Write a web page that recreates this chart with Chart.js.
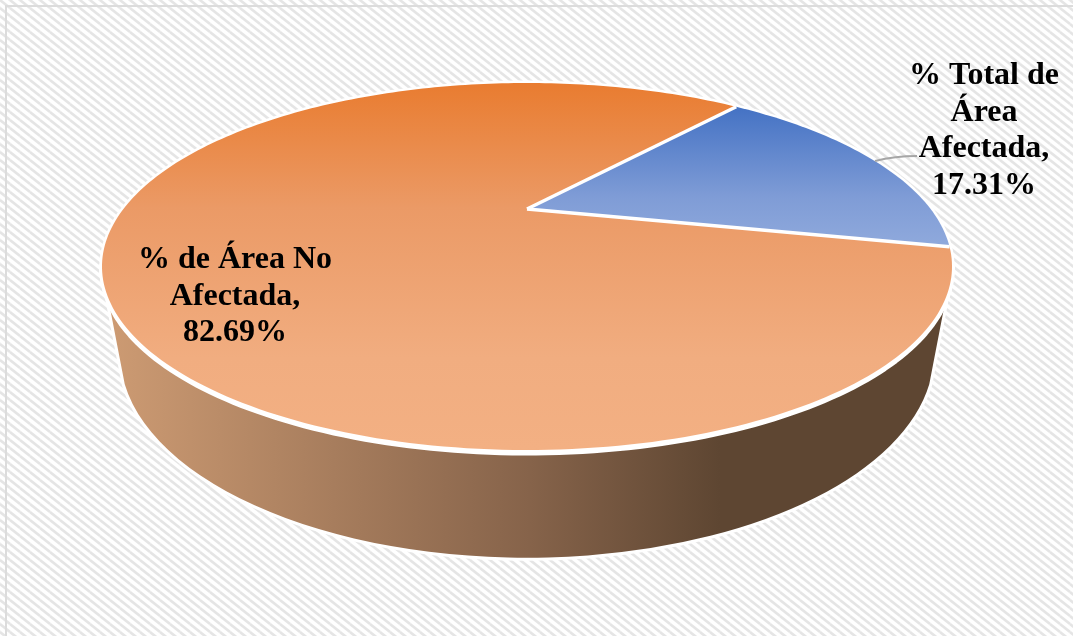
<!DOCTYPE html>
<html lang="es">
<head>
<meta charset="utf-8">
<title>Área afectada</title>
<script src="https://cdn.jsdelivr.net/npm/chart.js@4"></script>
<style>
  html, body { margin: 0; padding: 0; background: #fff; overflow: hidden; }
  canvas { display: block; }
</style>
</head>
<body>
<canvas id="area-chart" width="1073" height="636"></canvas>
<script>
const sliceNames = ['% Total de Área Afectada', '% de Área No Afectada'];
const sliceValues = [17.31, 82.69];
const sliceLabelLines = [['% Total de', 'Área', 'Afectada,'], ['% de Área No', 'Afectada,']];

// top face look, stops run from the top of each slice to its bottom
const sliceGradients = [
  [[0, '#4472c4'], [0.65, '#7f9cd6'], [1, '#8fa9dc']],
  [[0, '#e97c30'], [0.34, '#eb9a66'], [0.75, '#f1ad80'], [1, '#f3b083']],
];
const wallStops = [[0, '#cd9b73'], [0.69, '#86634a'], [1, '#5e4632']];

const TILT = 0.41;          // vertical squash of the disc
const PERSPECTIVE = 0.3134; // how much the near edge grows

// foot of the side wall, as fractions of the slice radius
const WALL_RX = 1.008;
const WALL_RY = 0.505;
const WALL_DROP = 0.359;
const WALL_FOOT_START = 0.15; // radians below the widest point, where the straight side meets the foot

// unit circle angle -> screen, with a simple perspective divide
function project(el, angle, shift = 0) {
  const u = Math.cos(angle);
  const v = Math.sin(angle);
  const w = 1 - PERSPECTIVE * v;
  return {
    x: el.x + el.outerRadius * u / w,
    y: el.y + shift + el.outerRadius * TILT * v / w,
  };
}

function traceArc(ctx, el, from, to, shift, moveFirst) {
  const steps = Math.max(2, Math.ceil(Math.abs(to - from) / 0.02));
  for (let i = 0; i <= steps; i++) {
    const p = project(el, from + (to - from) * i / steps, shift);
    if (i === 0 && moveFirst) ctx.moveTo(p.x, p.y);
    else ctx.lineTo(p.x, p.y);
  }
}

function makeHatch(ctx) {
  const tile = document.createElement('canvas');
  tile.width = 10;
  tile.height = 8;
  const t = tile.getContext('2d');
  t.fillStyle = '#fff';
  t.fillRect(0, 0, 10, 8);
  t.strokeStyle = '#e5e5e5';
  t.lineWidth = 2.6;
  [[-10, -8], [0, 0], [10, 8], [-10, 0], [0, -8], [0, 8], [10, 0]].forEach(([x, y]) => {
    t.beginPath();
    t.moveTo(x, y);
    t.lineTo(x + 10, y + 8);
    t.stroke();
  });
  return ctx.createPattern(tile, 'repeat');
}

const tiltedPie = {
  id: 'tiltedPie',

  beforeDraw(chart) {
    const { ctx, width, height } = chart;
    ctx.save();
    ctx.fillStyle = makeHatch(ctx);
    ctx.fillRect(0, 0, width, height);
    ctx.strokeStyle = '#dcdcdc';
    ctx.lineWidth = 2;
    ctx.beginPath();
    ctx.moveTo(6, height);
    ctx.lineTo(6, 6);
    ctx.lineTo(width, 6);
    ctx.stroke();
    ctx.restore();
  },

  // side wall goes under everything else
  beforeDatasetsDraw(chart) {
    const { ctx } = chart;
    const el = chart.getDatasetMeta(0).data[0];
    const r = el.outerRadius;
    const widest = Math.asin(PERSPECTIVE);
    ctx.save();
    ctx.beginPath();
    traceArc(ctx, el, widest, Math.PI - widest, 0, true);
    ctx.ellipse(el.x, el.y + r * WALL_DROP, r * WALL_RX, r * WALL_RY, 0,
      Math.PI - WALL_FOOT_START, WALL_FOOT_START, true);
    ctx.closePath();
    const grad = ctx.createLinearGradient(107, 0, 720, 0);
    wallStops.forEach(([at, color]) => grad.addColorStop(at, color));
    ctx.lineJoin = 'round';
    ctx.strokeStyle = '#fff';
    ctx.lineWidth = 6;
    ctx.stroke();
    ctx.fillStyle = grad;
    ctx.fill();
    ctx.restore();
  },

  // the arcs are redrawn through the perspective, using the controller's angles
  beforeDatasetDraw(chart, args) {
    const { ctx } = chart;
    const arcs = chart.getDatasetMeta(args.index).data;
    ctx.save();
    ctx.lineJoin = 'round';

    ctx.strokeStyle = '#fff';
    ctx.lineWidth = 5;
    [0, 3].forEach((shift) => {
      ctx.beginPath();
      traceArc(ctx, arcs[0], 0, Math.PI * 2, shift, true);
      ctx.closePath();
      ctx.stroke();
    });

    arcs.forEach((el, i) => {
      let top = el.y;
      let bottom = el.y;
      for (let a = el.startAngle; a <= el.endAngle; a += 0.02) {
        const p = project(el, a);
        top = Math.min(top, p.y);
        bottom = Math.max(bottom, p.y);
      }
      const grad = ctx.createLinearGradient(0, top, 0, bottom);
      sliceGradients[i].forEach(([at, color]) => grad.addColorStop(at, color));
      ctx.beginPath();
      ctx.moveTo(el.x, el.y);
      traceArc(ctx, el, el.startAngle, el.endAngle, 0, false);
      ctx.closePath();
      ctx.fillStyle = grad;
      ctx.fill();
    });

    // white seams between the slices
    ctx.strokeStyle = '#fff';
    ctx.lineWidth = 3.5;
    arcs.forEach((el) => {
      const p = project(el, el.startAngle);
      ctx.beginPath();
      ctx.moveTo(el.x, el.y);
      ctx.lineTo(p.x, p.y);
      ctx.stroke();
    });
    ctx.restore();
    return false;
  },

  afterDatasetsDraw(chart) {
    const { ctx } = chart;
    const arcs = chart.getDatasetMeta(0).data;
    const spots = [{ x: 984, y: 84 }, { x: 235, y: 268 }];

    ctx.save();
    ctx.strokeStyle = '#a6a6a6';
    ctx.lineWidth = 2;
    ctx.beginPath();
    ctx.moveTo(875, 161);
    ctx.quadraticCurveTo(895, 156, 917, 156);
    ctx.stroke();

    ctx.fillStyle = '#000';
    ctx.font = 'bold 32px "Liberation Serif"';
    ctx.textAlign = 'center';
    ctx.textBaseline = 'alphabetic';
    arcs.forEach((el, i) => {
      const lines = [...sliceLabelLines[i], sliceValues[i].toFixed(2) + '%'];
      lines.forEach((line, n) => ctx.fillText(line, spots[i].x, spots[i].y + n * 36.6));
    });
    ctx.restore();
  },
};

new Chart(document.getElementById('area-chart'), {
  type: 'pie',
  data: {
    labels: sliceNames,
    datasets: [{ data: sliceValues, radius: 403.6, borderWidth: 0 }],
  },
  options: {
    responsive: false,
    animation: false,
    rotation: 40,
    layout: { padding: { right: 19, bottom: 218 } },
    plugins: {
      legend: { display: false },
      tooltip: { enabled: false },
    },
  },
  plugins: [tiltedPie],
});
</script>
</body>
</html>
